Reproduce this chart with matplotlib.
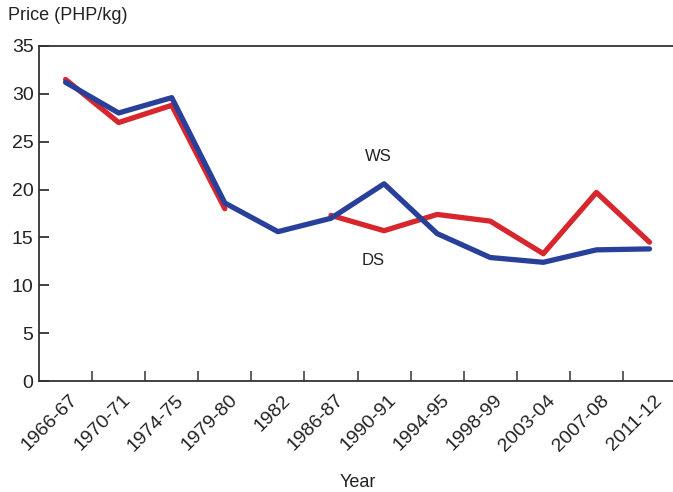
import numpy as np
import matplotlib.pyplot as plt
from matplotlib.transforms import ScaledTranslation

# Rice price by season, PHP/kg
years = ["1966-67", "1970-71", "1974-75", "1979-80", "1982", "1986-87",
         "1990-91", "1994-95", "1998-99", "2003-04", "2007-08", "2011-12"]
ws_price = [31.2, 28.0, 29.6, 18.6, 15.6, 17.0, 20.6, 15.4, 12.9, 12.4, 13.7, 13.8]
ds_price = [31.5, 27.0, 28.8, 18.0, np.nan, 17.3, 15.7, 17.4, 16.7, 13.3, 19.7, 14.5]

plt.rcParams['font.family'] = ['Liberation Sans', 'DejaVu Sans']

fig = plt.figure(figsize=(6.73, 4.92), dpi=100)
ax = fig.add_axes([0.058, 0.2256, 0.9465, 0.681])

x = np.arange(len(years))
ax.plot(x, ds_price, color="#d7262e", lw=3.8, solid_capstyle="round")
ax.plot(x, ws_price, color="#29409a", lw=3.8, solid_capstyle="round")

ax.text(5.9, 23.4, "WS", fontsize=12, ha="center", va="center", color="#222222")
ax.text(5.8, 12.6, "DS", fontsize=12, ha="center", va="center", color="#222222")

ax.set_xlim(-0.5, 11.5)
ax.set_ylim(0, 35)
ax.set_yticks(range(0, 36, 5))
ax.tick_params(axis="y", direction="in", length=7, width=1.2, labelsize=14,
               pad=4, colors="#222222")

ax.set_xticks(x)
ax.set_xticklabels(years, rotation=45, ha="right", va="center",
                   rotation_mode="anchor", fontsize=14, color="#222222")
ax.tick_params(axis="x", which="major", length=0, pad=12)
offset = ScaledTranslation(7 / 72, 0, fig.dpi_scale_trans)
for lbl in ax.get_xticklabels():
    lbl.set_transform(lbl.get_transform() + offset)
ax.set_xticks(np.arange(0.5, 11, 1), minor=True)
ax.tick_params(axis="x", which="minor", direction="in", length=7, width=1.2,
               colors="#444444")

for side in ["left", "bottom", "top"]:
    ax.spines[side].set_linewidth(1.3)
    ax.spines[side].set_color("#333333")
ax.spines["right"].set_visible(False)

fig.text(0.012, 0.968, "Price (PHP/kg)", fontsize=13, ha="left", va="center",
         color="#222222")
ax.set_xlabel("Year", fontsize=13, color="#222222", labelpad=14)

fig.savefig("out.png", dpi=100)
